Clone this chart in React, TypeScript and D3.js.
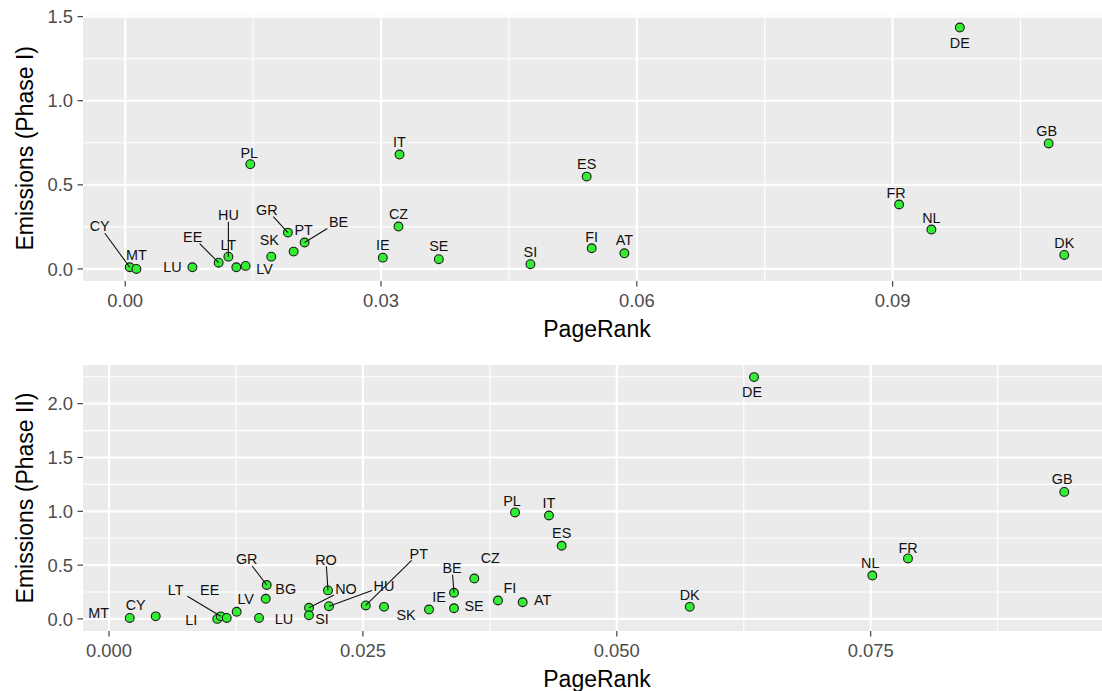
import React from "react";
import * as d3 from "d3";

// Phase I
const phase1Countries = ["CY", "MT", "LU", "EE", "HU", "LT", "LV", "PL", "SK", "GR", "PT", "BE", "IE", "CZ", "IT", "SE", "SI", "ES", "FI", "AT", "FR", "NL", "DE", "GB", "DK"];
const phase1PageRank = [0.00053, 0.00131, 0.00788, 0.01096, 0.0121, 0.01303, 0.01412, 0.01467, 0.01713, 0.01908, 0.01975, 0.02104, 0.03021, 0.03205, 0.03217, 0.03678, 0.04752, 0.05412, 0.05471, 0.05854, 0.09076, 0.09455, 0.09788, 0.1083, 0.11013];
const phase1Emissions = [0.01, 0.0, 0.01, 0.037, 0.073, 0.01, 0.018, 0.623, 0.073, 0.216, 0.103, 0.157, 0.067, 0.252, 0.68, 0.058, 0.028, 0.549, 0.123, 0.093, 0.383, 0.234, 1.435, 0.746, 0.083];
const phase1XTicks = [0, 0.03, 0.06, 0.09];
const phase1YTicks = [0, 0.5, 1, 1.5];

// Phase II
const phase2Countries = ["MT", "CY", "LI", "LT", "EE", "LV", "LU", "BG", "GR", "NO", "SI", "RO", "HU", "PT", "SK", "IE", "BE", "SE", "CZ", "FI", "PL", "AT", "IT", "ES", "DK", "DE", "NL", "FR", "GB"];
const phase2PageRank = [0.00204, 0.0046, 0.01066, 0.011, 0.01159, 0.01257, 0.01477, 0.01543, 0.01553, 0.01969, 0.01969, 0.02156, 0.02166, 0.02528, 0.02708, 0.03151, 0.03397, 0.03397, 0.03597, 0.0383, 0.03998, 0.04073, 0.04332, 0.04457, 0.05718, 0.06351, 0.07516, 0.07867, 0.09406];
const phase2Emissions = [0.009, 0.024, 0.0, 0.024, 0.009, 0.066, 0.009, 0.187, 0.315, 0.103, 0.034, 0.265, 0.118, 0.125, 0.112, 0.087, 0.243, 0.099, 0.375, 0.171, 0.989, 0.155, 0.961, 0.68, 0.112, 2.247, 0.403, 0.562, 1.18];
const phase2XTicks = [0, 0.025, 0.05, 0.075];
const phase2YTicks = [0, 0.5, 1, 1.5, 2];

// label offsets in px (repel-style placement), [dx, dy, segment]
const phase1Nudge: Record<string, [number, number, boolean]> = {
  CY: [-30, -41, true], MT: [0, -14, false], LU: [-20, 0, false], EE: [-26, -26, true],
  HU: [0, -42, true], LT: [-8, -22, false], LV: [19, 3, false], PL: [-1, -11, false],
  SK: [-2, -17, false], GR: [-21, -23, true], PT: [10, -22, false], BE: [34, -21, true],
  DE: [0, 15, false], GB: [-2, -13, false], FR: [-3, -12, false], FI: [0, -11, false],
  SI: [0, -12, false], NL: [0, -12, false], DK: [0, -12, false],
};
const phase2Nudge: Record<string, [number, number, boolean]> = {
  MT: [-31, -5, false], CY: [-20, -12, false], LI: [-26, 1, false], LT: [-45, -27, true],
  EE: [-17, -28, false], LV: [9, -13, false], LU: [25, 1, false], BG: [20, -10, false],
  GR: [-20, -26, true], RO: [-2, -31, true], NO: [37, -19, true], SI: [13, 4, false],
  HU: [55, -20, true], PT: [53, -52, true], SK: [22, 8, false], IE: [10, -13, false],
  BE: [-2, -25, true], SE: [20, -2, false], CZ: [16, -21, false], FI: [12, -13, false],
  AT: [20, -2, false], PL: [-3, -12, false], DK: [0, -12, false], DE: [-2, 15, false],
  NL: [-2, -13, false], FR: [0, -11, false], GB: [-2, -13, false],
};

const FONT = "'Liberation Sans', Arial, Helvetica, sans-serif";
const PANEL_LEFT = 83;
const PANEL_RIGHT = 1111;

function expanded(values: number[]): [number, number] {
  const [lo, hi] = d3.extent(values) as [number, number];
  const pad = (hi - lo) * 0.05;
  return [lo - pad, hi + pad];
}

function minorBreaks(ticks: number[], domain: [number, number]) {
  const step = ticks[1] - ticks[0];
  const out: number[] = [];
  for (let i = -1; i < ticks.length; i++) {
    const v = ticks[0] + step * (i + 0.5);
    if (v >= domain[0] && v <= domain[1]) out.push(v);
  }
  return out;
}

interface PanelProps {
  top: number;
  bottom: number;
  countries: string[];
  xs: number[];
  ys: number[];
  xTicks: number[];
  yTicks: number[];
  xDigits: number;
  yTitle: string;
  nudge: Record<string, [number, number, boolean]>;
}

function Panel({ top, bottom, countries, xs, ys, xTicks, yTicks, xDigits, yTitle, nudge }: PanelProps) {
  const xDom = expanded(xs);
  const yDom = expanded(ys);
  const x = d3.scaleLinear().domain(xDom).range([PANEL_LEFT, PANEL_RIGHT]);
  const y = d3.scaleLinear().domain(yDom).range([bottom, top]);
  const xMinor = minorBreaks(xTicks, xDom);
  const yMinor = minorBreaks(yTicks, yDom);
  const fx = d3.format(`.${xDigits}f`);
  const fy = d3.format(".1f");

  const pts = countries.map((c, i) => {
    const px = x(xs[i]);
    const py = y(ys[i]);
    const n = nudge[c] || [0, -13, false];
    return { c, px, py, lx: px + n[0], ly: py + n[1], seg: n[2] };
  });

  // segment from point to edge of label box
  const segEnd = (p: (typeof pts)[number]) => {
    const hw = p.c.length * 5 + 2;
    const hh = 7;
    const dx = p.px - p.lx;
    const dy = p.py - p.ly;
    const t = Math.min(Math.abs(hw / (dx || 1e-9)), Math.abs(hh / (dy || 1e-9)), 1);
    return [p.lx + dx * t, p.ly + dy * t];
  };

  return (
    <g>
      <rect x={PANEL_LEFT} y={top} width={PANEL_RIGHT - PANEL_LEFT} height={bottom - top} fill="#EBEBEB" />
      {yMinor.map((v) => (
        <line key={"ym" + v} x1={PANEL_LEFT} x2={PANEL_RIGHT} y1={y(v)} y2={y(v)} stroke="#fff" strokeWidth={1.1} />
      ))}
      {xMinor.map((v) => (
        <line key={"xm" + v} x1={x(v)} x2={x(v)} y1={top} y2={bottom} stroke="#fff" strokeWidth={1.1} />
      ))}
      {yTicks.map((v) => (
        <line key={"yM" + v} x1={PANEL_LEFT} x2={PANEL_RIGHT} y1={y(v)} y2={y(v)} stroke="#fff" strokeWidth={2.2} />
      ))}
      {xTicks.map((v) => (
        <line key={"xM" + v} x1={x(v)} x2={x(v)} y1={top} y2={bottom} stroke="#fff" strokeWidth={2.2} />
      ))}

      {/* axes */}
      {yTicks.map((v) => (
        <g key={"yt" + v}>
          <line x1={PANEL_LEFT - 5.5} x2={PANEL_LEFT} y1={y(v)} y2={y(v)} stroke="#333" strokeWidth={1.1} />
          <text x={PANEL_LEFT - 10} y={y(v)} dy="0.36em" textAnchor="end" fontSize={18.4} fill="#4D4D4D">
            {fy(v)}
          </text>
        </g>
      ))}
      {xTicks.map((v) => (
        <g key={"xt" + v}>
          <line x1={x(v)} x2={x(v)} y1={bottom} y2={bottom + 5.5} stroke="#333" strokeWidth={1.1} />
          <text x={x(v)} y={bottom + 26} textAnchor="middle" fontSize={18.4} fill="#4D4D4D">
            {fx(v)}
          </text>
        </g>
      ))}
      <text x={(PANEL_LEFT + PANEL_RIGHT) / 2} y={bottom + 56} textAnchor="middle" fontSize={23} fill="#000">
        PageRank
      </text>
      <text
        transform={`translate(33,${(top + bottom) / 2}) rotate(-90)`}
        textAnchor="middle"
        fontSize={23}
        fill="#000"
      >
        {yTitle}
      </text>

      {/* points */}
      {pts.map((p) => (
        <circle key={"p" + p.c} cx={p.px} cy={p.py} r={4.4} fill="#33EE33" stroke="#1a1a1a" strokeWidth={1.1} />
      ))}
      {pts
        .filter((p) => p.seg)
        .map((p) => {
          const [ex, ey] = segEnd(p);
          return <line key={"s" + p.c} x1={p.px} y1={p.py} x2={ex} y2={ey} stroke="#111" strokeWidth={1.1} />;
        })}
      {pts.map((p) => (
        <text key={"l" + p.c} x={p.lx} y={p.ly} dy="0.36em" textAnchor="middle" fontSize={14.4} fill="#111">
          {p.c}
        </text>
      ))}
    </g>
  );
}

export default function App() {
  return (
    <div style={{ position: "absolute", left: 0, top: 0, background: "#fff" }}>
      <svg width={1102} height={691} style={{ display: "block", fontFamily: FONT }}>
        <rect width={1102} height={691} fill="#fff" />
        <Panel
          top={15.5}
          bottom={281}
          countries={phase1Countries}
          xs={phase1PageRank}
          ys={phase1Emissions}
          xTicks={phase1XTicks}
          yTicks={phase1YTicks}
          xDigits={2}
          yTitle="Emissions (Phase I)"
          nudge={phase1Nudge}
        />
        <Panel
          top={365}
          bottom={631}
          countries={phase2Countries}
          xs={phase2PageRank}
          ys={phase2Emissions}
          xTicks={phase2XTicks}
          yTicks={phase2YTicks}
          xDigits={3}
          yTitle="Emissions (Phase II)"
          nudge={phase2Nudge}
        />
      </svg>
    </div>
  );
}
